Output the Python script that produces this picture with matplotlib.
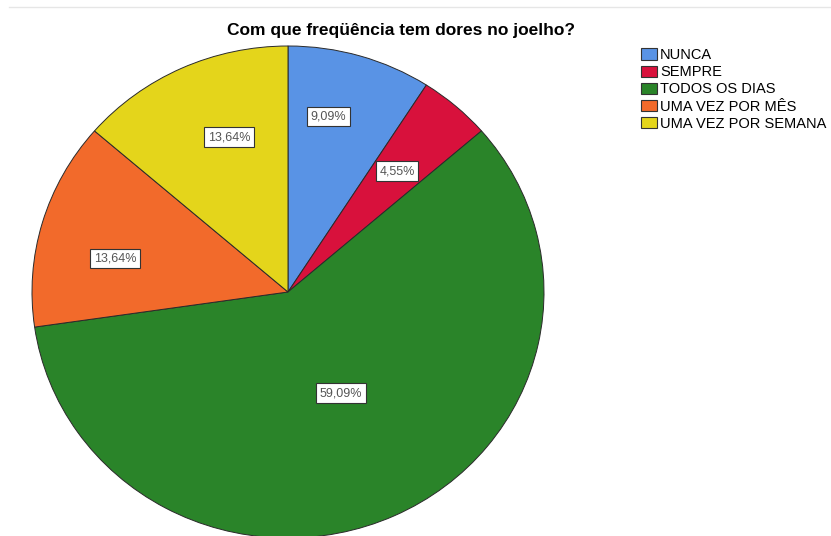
import numpy as np
import matplotlib.pyplot as plt
from matplotlib.lines import Line2D

plt.rcParams['font.family'] = ['Liberation Sans', 'DejaVu Sans']

# dados do gráfico
categorias = ['NUNCA', 'SEMPRE', 'TODOS OS DIAS', 'UMA VEZ POR MÊS', 'UMA VEZ POR SEMANA']
percentuais = [9.09, 4.55, 59.09, 13.64, 13.64]
rotulos = ['9,09%', '4,55%', '59,09%', '13,64%', '13,64%']
cores = ['#5993E5', '#D8113C', '#2A8429', '#F26A2B', '#E4D51B']
# posicao do rotulo: distancia ao centro (fracao do raio) e fracao do angulo da fatia
dist_rotulo = [0.73, 0.65, 0.46, 0.69, 0.67]
frac_rotulo = [0.38, 0.5, 0.49, 0.40, 0.59]

fig = plt.figure(figsize=(8.31, 5.36), dpi=100)
ax = fig.add_axes([32 / 831, -2 / 536, 512 / 831, 492 / 536])

fatias, _ = ax.pie(percentuais, colors=cores, startangle=90, counterclock=False,
                   wedgeprops=dict(edgecolor='#2a2a2a', linewidth=0.7))
ax.set_aspect('auto')
ax.set_xlim(-1, 1)
ax.set_ylim(-1, 1)

# rotulos com caixa branca (sentido horario: comeca em theta2)
for fatia, txt, d, f in zip(fatias, rotulos, dist_rotulo, frac_rotulo):
    ang = np.deg2rad(fatia.theta2 - f * (fatia.theta2 - fatia.theta1))
    ax.text(d * np.cos(ang), d * np.sin(ang), txt, ha='center', va='center',
            fontsize=9, color='#555555',
            bbox=dict(boxstyle='square,pad=0.3', facecolor='white',
                      edgecolor='#333333', linewidth=0.8))

fig.text(401 / 831, 1 - 31 / 536, 'Com que freqüência tem dores no joelho?',
         ha='center', va='center', fontsize=12.5, fontweight='bold')

leg = fig.legend(fatias, categorias, loc='upper left', bbox_to_anchor=(641 / 831, 1 - 48 / 536),
                 frameon=False, fontsize=10.5, handlelength=1.1, handleheight=0.8,
                 handletextpad=0.2, labelspacing=0.22, borderpad=0, borderaxespad=0)
for h in leg.legend_handles:
    h.set_edgecolor('#333333')
    h.set_linewidth(0.8)

# linha fina no topo
fig.add_artist(Line2D([9 / 831, 1], [1 - 7 / 536, 1 - 7 / 536], color='#e6e6e6', linewidth=1))

fig.savefig('out.png', dpi=100)
